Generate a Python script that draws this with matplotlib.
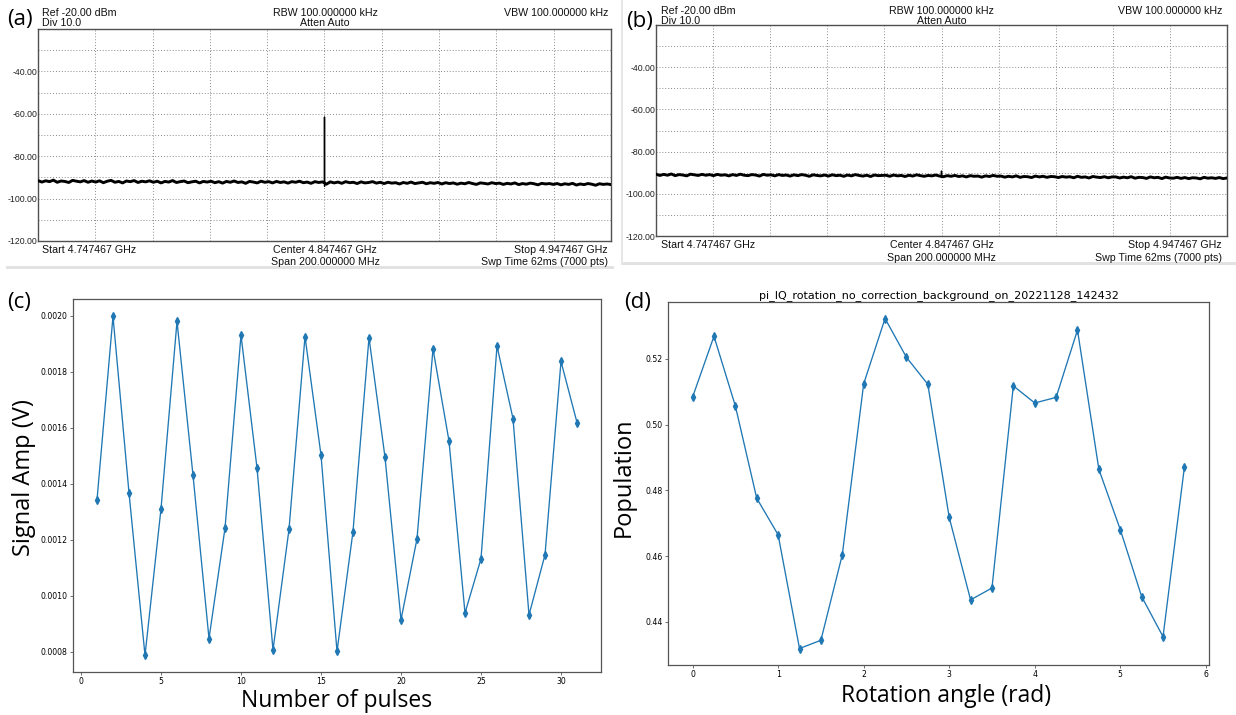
import numpy as np
import matplotlib
matplotlib.use("Agg")
import matplotlib.pyplot as plt
from matplotlib.patches import Rectangle

W, H = 1236, 715

# ---- spectrum analyser screenshots (a), (b) ----
F_START = 4.747467
F_STOP = 4.947467

trace_a = [
    -91.5, -92.2, -91.6, -92.0, -91.3, -92.3, -91.7, -91.9, -92.4, -91.4, -91.8, -92.1, -91.5, -92.3, -91.7,
    -92.2, -91.6, -92.5, -91.8, -91.4, -92.3, -91.9, -92.6, -91.7, -92.0, -91.5, -92.4, -91.8, -92.1, -91.6,
    -92.3, -91.8, -92.6, -91.9, -92.2, -91.5, -92.4, -92.0, -91.7, -92.5, -92.1, -91.8, -92.6, -91.9, -92.2,
    -91.8, -92.5, -92.0, -92.7, -91.9, -92.3, -91.7, -92.4, -92.1, -92.8, -91.9, -92.2, -92.6, -91.8, -92.3,
    -92.0, -92.6, -91.9, -92.4, -92.1, -92.7, -92.0, -92.3, -91.8, -92.5, -92.2, -92.8, -92.0, -92.4, -92.1,
    -93.2, -92.1, -92.6, -92.2, -92.8, -92.0, -92.5, -92.3, -92.9, -92.1, -92.6, -92.4, -92.0, -92.7, -92.3,
    -92.9, -92.3, -92.7, -92.5, -93.1, -92.4, -92.8, -92.2, -92.9, -92.6, -92.3, -93.0, -92.5, -92.8, -92.4,
    -93.1, -92.5, -92.9, -92.6, -93.2, -92.7, -93.0, -92.4, -92.9, -93.3, -92.6, -92.8, -93.1, -92.5, -92.9,
    -92.7, -93.3, -92.8, -93.1, -92.6, -93.4, -92.9, -93.2, -92.7, -93.0, -93.5, -92.8, -93.1, -92.9, -93.3,
    -92.9, -93.5, -93.0, -93.3, -92.8, -93.6, -93.1, -93.4, -92.9, -93.2, -93.7, -93.0, -93.3, -93.1, -93.4,
]
trace_b = [
    -90.7, -91.3, -90.8, -91.2, -90.6, -91.4, -90.9, -91.1, -91.5, -90.7, -91.0, -91.3, -90.8, -91.2, -90.9,
    -91.4, -90.8, -91.2, -91.0, -91.5, -90.9, -91.3, -90.7, -91.2, -91.4, -90.9, -91.1, -91.6, -90.8, -91.2,
    -91.0, -91.5, -90.9, -91.3, -91.1, -91.6, -91.0, -91.4, -90.9, -91.2, -91.7, -91.0, -91.3, -91.5, -91.1,
    -91.6, -91.0, -91.4, -91.2, -91.7, -91.1, -91.5, -90.9, -91.3, -91.6, -91.2, -91.8, -91.1, -91.4, -91.3,
    -91.2, -91.7, -91.1, -91.5, -91.3, -91.8, -91.2, -91.6, -91.0, -91.4, -91.7, -91.3, -91.5, -91.1, -91.6,
    -91.9, -91.4, -91.7, -91.3, -91.8, -91.5, -92.0, -91.4, -91.7, -91.6, -92.1, -91.5, -91.8, -91.3, -91.7,
    -91.6, -92.1, -91.7, -92.0, -91.5, -92.2, -91.8, -91.9, -92.3, -91.6, -92.0, -91.7, -92.2, -91.8, -91.9,
    -92.3, -91.8, -92.1, -91.9, -92.4, -91.7, -92.2, -92.0, -92.5, -91.8, -92.1, -92.3, -91.9, -92.4, -92.0,
    -92.0, -92.5, -92.1, -92.4, -91.9, -92.6, -92.2, -92.3, -92.7, -92.0, -92.4, -92.2, -92.8, -92.1, -92.5,
    -92.6, -92.2, -92.7, -92.3, -92.8, -92.4, -92.5, -92.9, -92.2, -92.6, -92.4, -92.7, -92.3, -92.8, -92.5,
]
# narrow carrier line at the centre frequency
spike_a_ghz = [4.84730, 4.84745, 4.847467, 4.84749, 4.84762]
spike_a_dbm = [-92.2, -92.4, -61.5, -94.2, -92.4]
spike_b_ghz = [4.84730, 4.84745, 4.847467, 4.84749, 4.84762]
spike_b_dbm = [-91.6, -91.8, -89.2, -92.3, -91.7]

header_texts = ["Ref -20.00 dBm", "Div 10.0", "RBW 100.000000 kHz", "Atten Auto",
                "VBW 100.000000 kHz", "Start 4.747467 GHz", "Center 4.847467 GHz",
                "Span 200.000000 MHz", "Stop 4.947467 GHz", "Swp Time 62ms (7000 pts)"]
db_ticks = list(range(-120, -19, 10))
db_ticklabels = ["-120.00", "", "-100.00", "", "-80.00", "", "-60.00", "", "-40.00", "", ""]

# ---- (c) pulse train ----
pulses = list(range(1, 32))
signal_amp = [0.001343, 0.001998, 0.001368, 0.000788, 0.001311, 0.001980, 0.001431, 0.000848,
              0.001242, 0.001931, 0.001457, 0.000807, 0.001238, 0.001926, 0.001503, 0.000802,
              0.001230, 0.001922, 0.001495, 0.000915, 0.001204, 0.001882, 0.001553, 0.000939,
              0.001133, 0.001892, 0.001633, 0.000932, 0.001147, 0.001837, 0.001619]

# ---- (d) IQ rotation ----
angles = [0.0, 0.25, 0.5, 0.75, 1.0, 1.25, 1.5, 1.75, 2.0, 2.25, 2.5, 2.75,
          3.0, 3.25, 3.5, 3.75, 4.0, 4.25, 4.5, 4.75, 5.0, 5.25, 5.5, 5.75]
population = [0.5084, 0.5269, 0.5057, 0.4776, 0.4665, 0.4319, 0.4344, 0.4604,
              0.5124, 0.5323, 0.5205, 0.5123, 0.4718, 0.4467, 0.4503, 0.5118,
              0.5066, 0.5083, 0.5288, 0.4864, 0.4681, 0.4477, 0.4355, 0.4871]
title_d = "pi_IQ_rotation_no_correction_background_on_20221128_142432"

BLUE = "#1f77b4"
LABEL_FONT = "Open Sans"
SA_FONT = "Liberation Sans"

fig = plt.figure(figsize=(W / 100, H / 100), dpi=100)


def rect(l, t, r, b):
    return [l / W, 1 - b / H, (r - l) / W, (b - t) / H]


def ftext(x, y, s, **kw):
    fig.text(x / W, 1 - y / H, s, **kw)


def spectrum(box, trace, sp_f, sp_db, xs, ys, strip):
    ax = fig.add_axes(rect(*box))
    f = np.linspace(F_START, F_STOP, len(trace))
    ax.plot(f, trace, color="black", lw=2.1, zorder=3)
    ax.plot(sp_f, sp_db, color="black", lw=1.0, zorder=3)
    ax.set_xlim(F_START, F_STOP)
    ax.set_ylim(-120, -20)
    ax.set_xticks(np.linspace(F_START, F_STOP, 11))
    ax.set_yticks(db_ticks)
    ax.set_yticklabels(db_ticklabels, family=SA_FONT, fontsize=6.3, color="#222")
    ax.tick_params(axis="x", length=0, labelbottom=False)
    ax.tick_params(axis="y", length=0, pad=0.5)
    ax.grid(True, color="#8a8a8a", lw=0.7, ls=(0, (1, 2)))
    for sp in ax.spines.values():
        sp.set_color("#505050")
        sp.set_linewidth(1.0)
    # header / footer text lines
    xl, xc, xr = xs
    y1, y2, y3, y4 = ys
    pos = [(xl, y1, "left"), (xl, y2, "left"), (xc, y1, "center"), (xc, y2, "center"),
           (xr, y1, "right"), (xl, y3, "left"), (xc, y3, "center"), (xc, y4, "center"),
           (xr, y3, "right"), (xr, y4, "right")]
    for s, (px, py, ha) in zip(header_texts, pos):
        ftext(px, py, s, ha=ha, va="baseline", family=SA_FONT, fontsize=7.7, color="#111")
    sx0, sx1, sy0, sy1 = strip
    fig.add_artist(Rectangle((sx0 / W, 1 - sy1 / H), (sx1 - sx0) / W, (sy1 - sy0) / H,
                             transform=fig.transFigure, color="#e2e2e2", lw=0, zorder=0))
    return ax


spectrum((38, 29, 611, 241), trace_a, spike_a_ghz, spike_a_dbm,
         (42, 325, 608), (16, 26, 253, 265), (6, 614, 266.5, 269))
spectrum((656, 25, 1227, 236), trace_b, spike_b_ghz, spike_b_dbm,
         (661, 941.5, 1222), (13.7, 23.5, 248, 261), (622, 1236, 262.5, 265))
fig.add_artist(Rectangle((620.5 / W, 1 - 265 / H), 2 / W, 265 / H,
                         transform=fig.transFigure, color="#e6e6e6", lw=0, zorder=0))


def style_plot(ax):
    ax.tick_params(labelsize=5.6, length=2.2, width=0.5, pad=1.5, color="#333")
    for sp in ax.spines.values():
        sp.set_color("#555555")
        sp.set_linewidth(0.9)


# (c)
axc = fig.add_axes(rect(73, 299.4, 601, 672.3))
axc.plot(pulses, signal_amp, marker="d", ms=4.0, lw=0.95, color=BLUE)
style_plot(axc)
axc.set_xlabel("Number of pulses", family=LABEL_FONT, fontsize=16.5)
axc.set_ylabel("Signal Amp (V)", family=LABEL_FONT, fontsize=17)
axc.xaxis.set_label_coords(0.5, -0.045)
axc.yaxis.set_label_coords(-0.070, 0.522)

# (d)
axd = fig.add_axes(rect(668, 302, 1209, 665))
axd.plot(angles, population, marker="d", ms=4.0, lw=0.95, color=BLUE)
style_plot(axd)
axd.set_title(title_d, fontsize=8, pad=3)
axd.set_xlabel("Rotation angle (rad)", family=LABEL_FONT, fontsize=16.5)
axd.set_ylabel("Population", family=LABEL_FONT, fontsize=17)
axd.xaxis.set_label_coords(0.514, -0.052)
axd.yaxis.set_label_coords(-0.059, 0.516)

# panel letters
for s, x, y in [("(a)", 7, 20), ("(b)", 626, 22), ("(c)", 7, 302.5), ("(d)", 624, 302.5)]:
    ftext(x, y, s, ha="left", va="center", family=LABEL_FONT, fontsize=16)

fig.savefig("out.png", dpi=100)
